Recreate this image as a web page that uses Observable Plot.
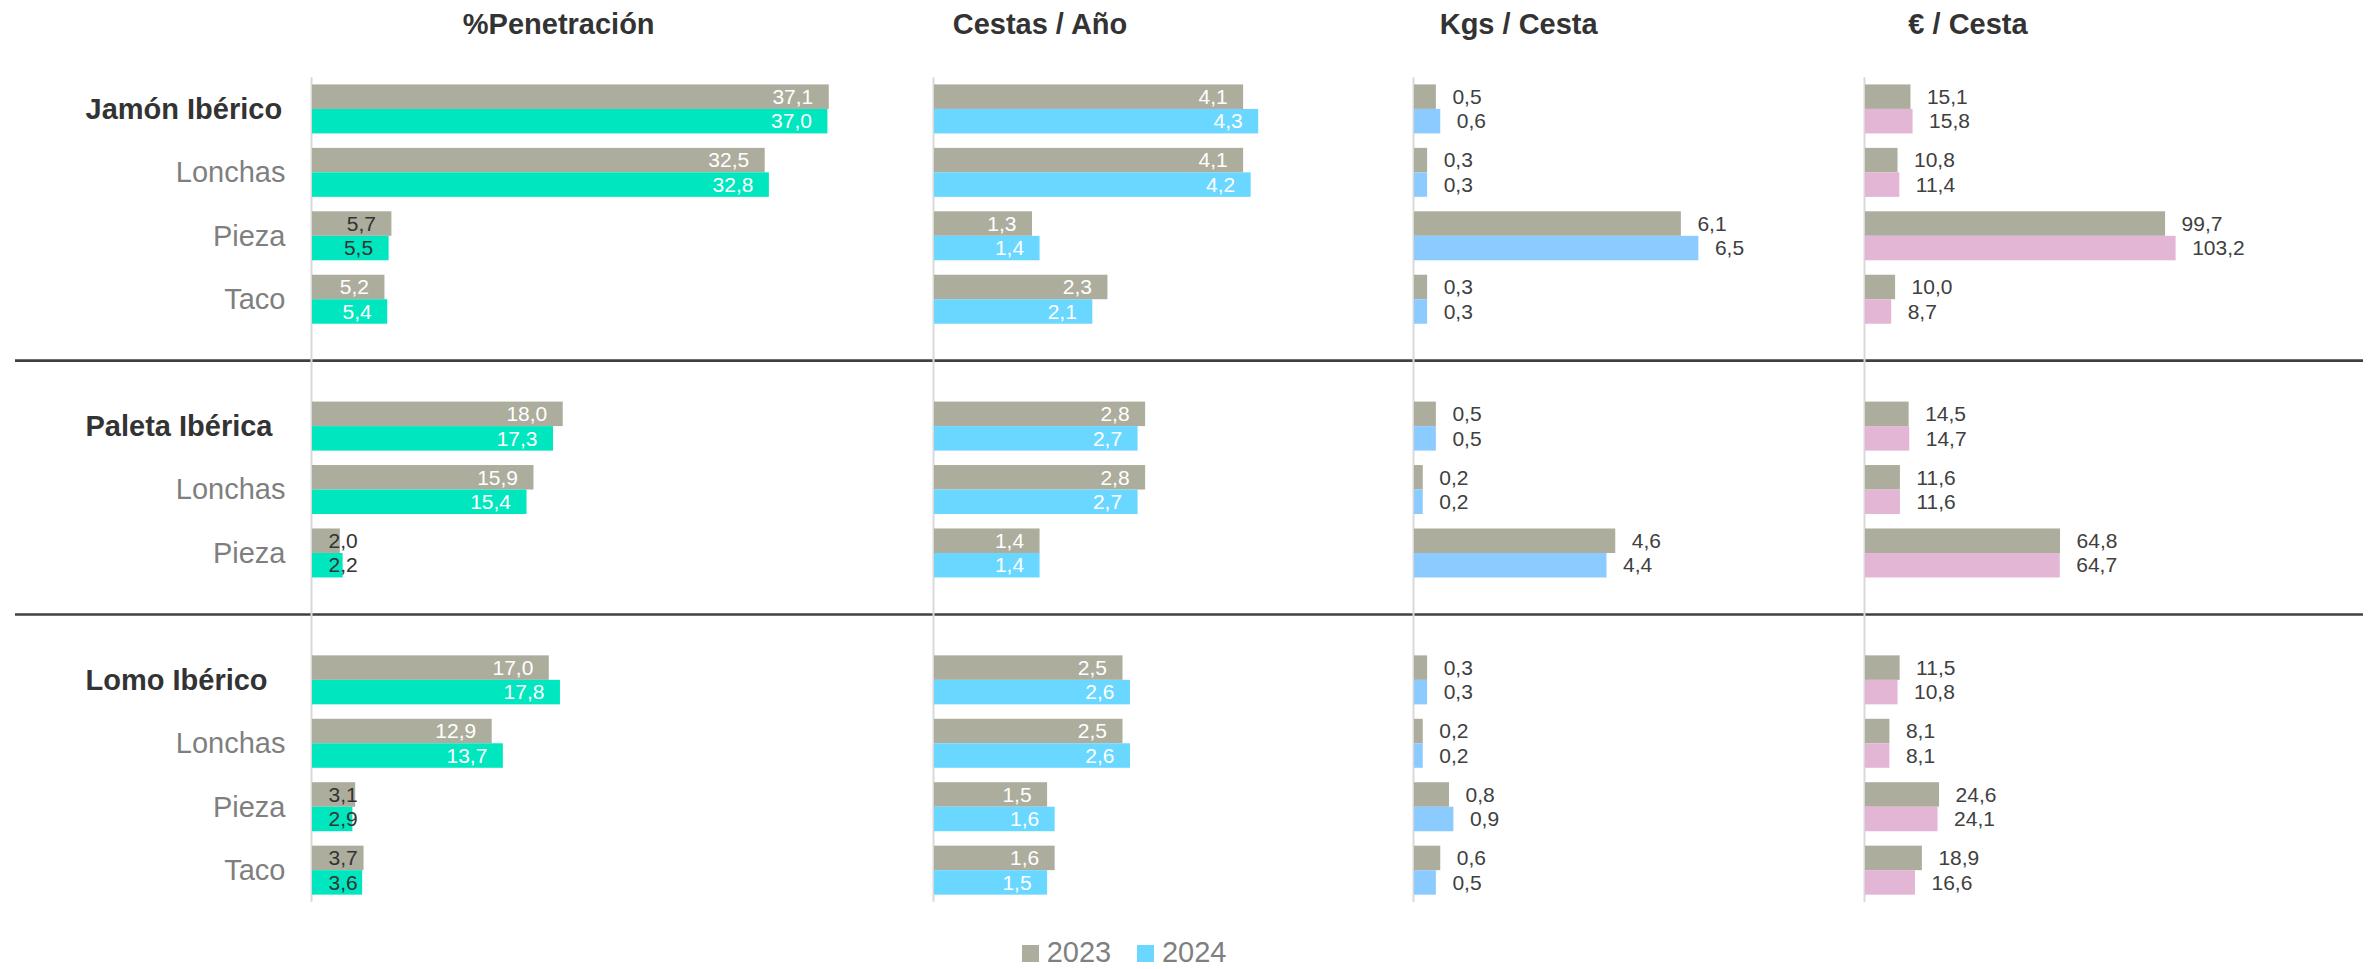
<!DOCTYPE html>
<html>
<head>
<meta charset="utf-8">
<script src="https://cdn.jsdelivr.net/npm/d3@7"></script>
<script src="https://cdn.jsdelivr.net/npm/@observablehq/plot@0.6"></script>
<style>
  html, body { margin: 0; padding: 0; background: #ffffff; }
  #chart { position: relative; width: 2377px; height: 969px; overflow: hidden; font-family: "Liberation Sans", Arial, sans-serif; }
  #chart svg { position: absolute; top: 0; overflow: visible; max-width: none; }
  .title { position: absolute; top: 9.5px; transform: translateX(-50%); font-size: 29px; font-weight: bold; color: #333333; line-height: 29px; white-space: nowrap; }
  #legend { position: absolute; left: 1022px; top: 937.5px; font-size: 29px; line-height: 29px; color: #7f7f7f; white-space: nowrap; }
  #legend .sw { display: inline-block; width: 16.7px; height: 16.7px; vertical-align: baseline; margin-right: 8px; }
  #legend .item { margin-right: 26px; }
</style>
</head>
<body>
<div id="chart"></div>
<script>
// ---------------- DATA ----------------
const groups = ["Jamón Ibérico", "Paleta Ibérica", "Lomo Ibérico"];
const subtypes = [["Lonchas", "Pieza", "Taco"], ["Lonchas", "Pieza"], ["Lonchas", "Pieza", "Taco"]];
const years = ["2023", "2024"];
const metricTitles = ["%Penetración", "Cestas / Año", "Kgs / Cesta", "€ / Cesta"];

// order: Jamón, Lonchas, Pieza, Taco, Paleta, Lonchas, Pieza, Lomo, Lonchas, Pieza, Taco
const penetracion2023 = [37.1, 32.5, 5.7, 5.2, 18.0, 15.9, 2.0, 17.0, 12.9, 3.1, 3.7];
const penetracion2024 = [37.0, 32.8, 5.5, 5.4, 17.3, 15.4, 2.2, 17.8, 13.7, 2.9, 3.6];
const cestas2023 = [4.1, 4.1, 1.3, 2.3, 2.8, 2.8, 1.4, 2.5, 2.5, 1.5, 1.6];
const cestas2024 = [4.3, 4.2, 1.4, 2.1, 2.7, 2.7, 1.4, 2.6, 2.6, 1.6, 1.5];
const kgs2023 = [0.5, 0.3, 6.1, 0.3, 0.5, 0.2, 4.6, 0.3, 0.2, 0.8, 0.6];
const kgs2024 = [0.6, 0.3, 6.5, 0.3, 0.5, 0.2, 4.4, 0.3, 0.2, 0.9, 0.5];
const euros2023 = [15.1, 10.8, 99.7, 10.0, 14.5, 11.6, 64.8, 11.5, 8.1, 24.6, 18.9];
const euros2024 = [15.8, 11.4, 103.2, 8.7, 14.7, 11.6, 64.7, 10.8, 8.1, 24.1, 16.6];

// ---------------- STYLE / LAYOUT ----------------
const FONT = "Liberation Sans, Arial, sans-serif";
const color2023 = "#adad9d";
const colors2024 = ["#00e6be", "#69d7ff", "#8ccbff", "#e2b6d4"];
const legendColor2024 = "#69d7ff";
const H = 910, TOP = 77.2, BOTTOM_Y = 901.9;
const layout = [
  {left: 311.7, ppu: 13.93, max: 40, titleDx: 247, inside: true, smartClamp: true},
  {left: 933.7, ppu: 75.4, max: 6, titleDx: 106.3, inside: true, smartClamp: false},
  {left: 1414.3, ppu: 43.75, max: 10, titleDx: 104.4, inside: false},
  {left: 1864.5, ppu: 3.01, max: 160, titleDx: 103.5, inside: false}
];
const series = [
  [penetracion2023, penetracion2024],
  [cestas2023, cestas2024],
  [kgs2023, kgs2024],
  [euros2023, euros2024]
];

const fmt = d3.formatLocale({decimal: ",", thousands: ".", grouping: [3], currency: ["", "€"]}).format(".1f");

// build rows / slots
const rows = [];
const separators = [];
let slot = 0;
groups.forEach((g, gi) => {
  if (gi > 0) { separators.push(slot); slot++; }
  rows.push({slot, label: g, total: true, sub: null});
  slot++;
  subtypes[gi].forEach(s => { rows.push({slot, label: s, total: false, sub: s}); slot++; });
});
const nSlots = slot;
const yDomain = [-0.5, nSlots - 0.5];
const yRange = [TOP, BOTTOM_Y];
const slotPx = (BOTTOM_Y - TOP) / nSlots;
const half = 24.5 / slotPx; // bar thickness in slot units

const chart = document.getElementById("chart");

// separators (full width)
const sepPlot = Plot.plot({
  width: 2377, height: H,
  marginLeft: 15, marginRight: 14, marginTop: TOP, marginBottom: H - BOTTOM_Y,
  x: {axis: null}, y: {domain: yDomain, range: yRange, axis: null},
  style: {background: "transparent", overflow: "visible"},
  marks: [
    Plot.ruleY(separators, {y: d => d, stroke: "#404040", strokeWidth: 2.6, dy: -2.5})
  ]
});
sepPlot.style.left = "0px";
chart.appendChild(sepPlot);

// row labels
const labelPlot = Plot.plot({
  width: 311, height: H,
  marginLeft: 85, marginRight: 26, marginTop: TOP, marginBottom: H - BOTTOM_Y,
  x: {axis: null}, y: {domain: yDomain, range: yRange, axis: null},
  style: {background: "transparent", overflow: "visible", fontFamily: FONT},
  marks: [
    Plot.text(rows.filter(r => r.total), {y: "slot", text: "label", frameAnchor: "left", textAnchor: "start",
      fontSize: 29, fontWeight: "bold", fill: "#333333"}),
    Plot.text(rows.filter(r => !r.total), {y: "slot", text: "label", frameAnchor: "right", textAnchor: "end",
      fontSize: 29, fill: "#7f7f7f"})
  ]
});
labelPlot.style.left = "0px";
chart.appendChild(labelPlot);

// metric columns
layout.forEach((L, ci) => {
  const data = [];
  rows.forEach((r, ri) => {
    years.forEach((yr, yi) => {
      data.push({slot: r.slot, sub: r.sub, year: yr, value: series[ci][yi][ri], fill: yi === 0 ? color2023 : colors2024[ci]});
    });
  });
  const y1 = d => d.year === years[0] ? d.slot - half : d.slot;
  const y2 = d => d.year === years[0] ? d.slot : d.slot + half;
  const yc = d => d.year === years[0] ? d.slot - half / 2 : d.slot + half / 2;
  const mL = 10;
  const fits = d => d.value * L.ppu >= 62;
  const textMarks = [];
  if (L.inside) {
    const labelFill = d => (L.smartClamp && d.sub === "Pieza") ? "#333333" : "#ffffff";
    textMarks.push(Plot.text(data.filter(fits), {x: "value", y: yc, text: d => fmt(d.value), textAnchor: "end", dx: -16,
      fontSize: 21, fill: labelFill}));
    textMarks.push(Plot.text(data.filter(d => !fits(d)), {x: () => 0, y: yc, text: d => fmt(d.value), textAnchor: "start", dx: 16,
      fontSize: 21, fill: "#333333"}));
  } else {
    textMarks.push(Plot.text(data, {x: "value", y: yc, text: d => fmt(d.value), textAnchor: "start", dx: 16,
      fontSize: 21, fill: "#404040"}));
  }
  const w = mL + L.max * L.ppu + 40;
  const p = Plot.plot({
    width: w, height: H,
    marginLeft: mL, marginRight: 0, marginTop: TOP, marginBottom: H - BOTTOM_Y,
    x: {domain: [0, L.max], range: [mL, mL + L.max * L.ppu], axis: null},
    y: {domain: yDomain, range: yRange, axis: null},
    style: {background: "transparent", overflow: "visible", fontFamily: FONT},
    marks: [
      Plot.ruleX([0], {stroke: "#d9d9d9", strokeWidth: 2, dx: -1}),
      Plot.rect(data, {x1: () => 0, x2: "value", y1, y2, fill: "fill"}),
      ...textMarks
    ]
  });
  p.style.left = (L.left - mL) + "px";
  chart.appendChild(p);

  const t = document.createElement("div");
  t.className = "title";
  t.style.left = (L.left + L.titleDx) + "px";
  t.textContent = metricTitles[ci];
  chart.appendChild(t);
});

// legend
const legend = document.createElement("div");
legend.id = "legend";
const legendColors = [color2023, legendColor2024];
years.forEach((yr, i) => {
  const item = document.createElement("span");
  item.className = "item";
  const sw = document.createElement("span");
  sw.className = "sw";
  sw.style.background = legendColors[i];
  item.appendChild(sw);
  item.appendChild(document.createTextNode(yr));
  legend.appendChild(item);
});
chart.appendChild(legend);
</script>
</body>
</html>
